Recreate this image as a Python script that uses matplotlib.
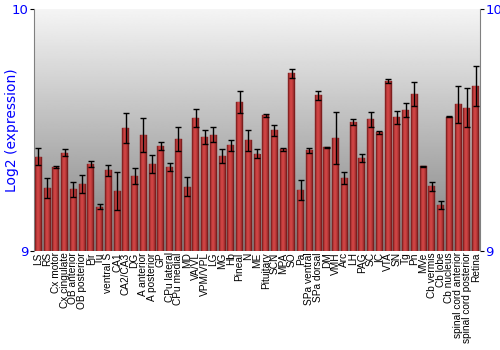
import matplotlib
matplotlib.use('Agg')
import matplotlib.pyplot as plt
import numpy as np

regiones = ['LS', 'RS', 'Cx motor', 'Cx cingulate', 'OB anterior', 'OB posterior', 'Pir', 'Tu',
            'ventral S', 'CA1', 'CA2/CA3', 'DG', 'A anterior', 'A posterior', 'GP', 'CPu lateral',
            'CPu medial', 'MD', 'VA/VL', 'VPM/VPL', 'LG', 'MG', 'Hb', 'Pineal', 'N', 'ME',
            'Pituitary', 'SCN', 'MPA', 'SO', 'Pa', 'SPa ventral', 'SPa dorsal', 'DM', 'VMH', 'Arc',
            'LH', 'PAG', 'SC', 'IC', 'VTA', 'SN', 'Tg', 'Pn', 'MVe', 'Cb vermis', 'Cb lobe',
            'Cb nucleus', 'spinal cord anterior', 'spinal cord posterior', 'Retina']
valores = [9.39, 9.262, 9.348, 9.406, 9.256, 9.277, 9.36, 9.183, 9.333, 9.248, 9.507, 9.311,
           9.481, 9.36, 9.434, 9.348, 9.463, 9.266, 9.55, 9.471, 9.481, 9.393, 9.437, 9.616,
           9.457, 9.402, 9.561, 9.499, 9.42, 9.734, 9.251, 9.417, 9.643, 9.428, 9.466, 9.30,
           9.533, 9.383, 9.544, 9.49, 9.702, 9.552, 9.584, 9.649, 9.35, 9.267, 9.19, 9.554,
           9.607, 9.592, 9.682]
errores = [0.036, 0.041, 0.003, 0.014, 0.031, 0.039, 0.011, 0.01, 0.022, 0.078, 0.062, 0.033,
           0.07, 0.036, 0.015, 0.017, 0.05, 0.038, 0.036, 0.03, 0.03, 0.03, 0.022, 0.047,
           0.043, 0.018, 0.007, 0.023, 0.007, 0.02, 0.041, 0.01, 0.018, 0.003, 0.107, 0.025,
           0.014, 0.017, 0.031, 0.007, 0.009, 0.027, 0.029, 0.048, 0.002, 0.02, 0.018, 0.002,
           0.077, 0.08, 0.082]

azul = '#0000ff'

fig = plt.figure(figsize=(5, 3.5), dpi=100)
ax = fig.add_axes([0.068, 0.283, 0.892, 0.691])

x = np.arange(len(regiones))
ax.set_xlim(-0.5, len(regiones) - 0.5)
ax.set_ylim(9, 10)

# fondo degradado (claro arriba, gris abajo)
fondo = np.linspace(0.5, 0.96, 256).reshape(-1, 1)
ax.imshow(fondo, cmap='gray', vmin=0, vmax=1, aspect='auto', origin='lower',
          extent=[-0.5, len(regiones) - 0.5, 9, 10], zorder=0)

barras = ax.bar(x, np.array(valores) - 9, bottom=9, width=0.8, color='#b83030',
                edgecolor='#8a2020', linewidth=0.3, zorder=2)

# degradado horizontal en cada barra
grad = np.array([[0.55, 0.8, 0.95, 1.0, 0.95, 0.85, 0.7, 0.5]])
rojos = matplotlib.colors.LinearSegmentedColormap.from_list('r', ['#6a1515', '#d24545'])
for b in barras:
    im = ax.imshow(grad, cmap=rojos, vmin=0.4, vmax=1, aspect='auto',
                   extent=[b.get_x(), b.get_x() + b.get_width(), 9, b.get_y() + b.get_height()],
                   zorder=3)
    im.set_clip_path(b)

ax.errorbar(x, valores, yerr=errores, fmt='none', ecolor='black', elinewidth=1,
            capsize=2, capthick=1, zorder=4)

ax.set_xticks(x)
ax.set_xticklabels(regiones, rotation=90, fontsize=7.3, family='Liberation Sans')
ax.tick_params(axis='x', length=0, pad=1)
ax.set_yticks([9, 10])
ax.tick_params(axis='y', colors='black', labelcolor=azul, labelsize=9.5, length=3,
               left=True, right=True, labelleft=True, labelright=True, pad=1)
ax.set_ylabel('Log2 (expression)', color=azul, fontsize=10, labelpad=-5)

for lado in ['top', 'bottom']:
    ax.spines[lado].set_visible(False)
for lado in ['left', 'right']:
    ax.spines[lado].set_color('#808080')

plt.savefig('out.png')
